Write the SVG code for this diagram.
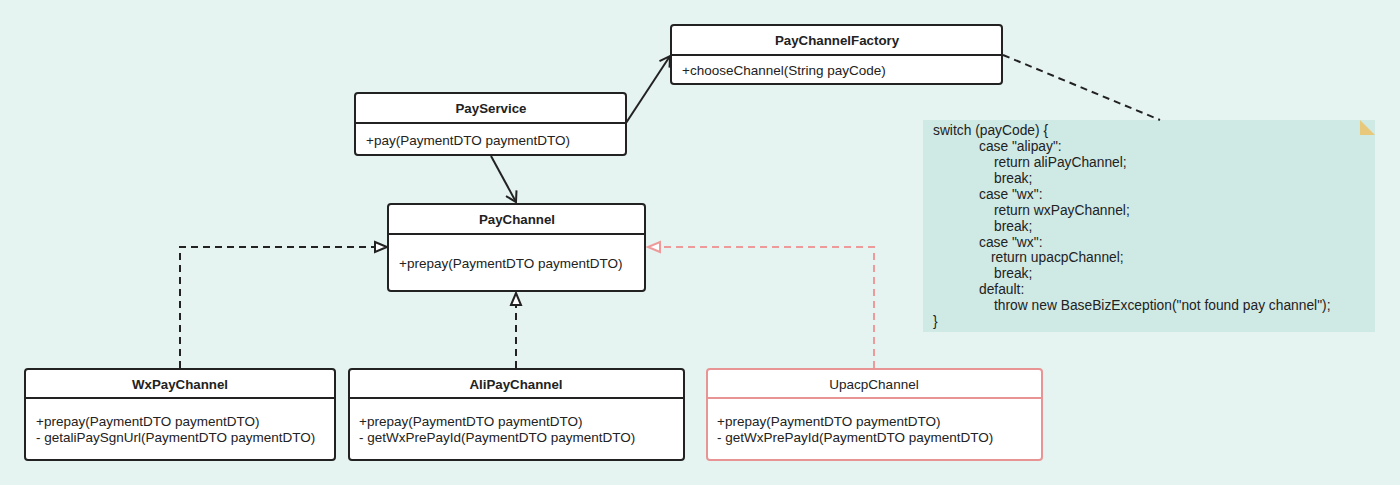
<svg xmlns="http://www.w3.org/2000/svg" width="1400" height="485" viewBox="0 0 1400 485">
<style>
.box{fill:#ffffff;stroke:#222;stroke-width:2}
.red{fill:#ffffff;stroke:#e89494;stroke-width:2}
.div{stroke:#222;stroke-width:2}
.divr{stroke:#e89494;stroke-width:2}
.t{font-family:"Liberation Sans",Arial,sans-serif;font-size:13.5px;fill:#222}
.b{font-weight:bold;text-anchor:middle;font-size:13.3px}
.n{font-family:"Liberation Sans",Arial,sans-serif;font-size:13.8px;fill:#222}
.ln{fill:none;stroke:#222;stroke-width:2}
.dash{fill:none;stroke:#222;stroke-width:2;stroke-dasharray:7 5}
.dashr{fill:none;stroke:#ef9a9a;stroke-width:2;stroke-dasharray:7 5}
</style>
<defs>
<marker id="open" markerWidth="14" markerHeight="14" refX="11" refY="7" orient="auto" markerUnits="userSpaceOnUse">
<path d="M1,1 L11,7 L1,13" fill="none" stroke="#222" stroke-width="2"/>
</marker>
<marker id="tri" markerWidth="16" markerHeight="14" refX="14" refY="7" orient="auto" markerUnits="userSpaceOnUse">
<path d="M2,2 L14,7 L2,12 Z" fill="#ffffff" stroke="#222" stroke-width="2"/>
</marker>
<marker id="trir" markerWidth="16" markerHeight="14" refX="14" refY="7" orient="auto" markerUnits="userSpaceOnUse">
<path d="M2,2 L14,7 L2,12 Z" fill="#ffffff" stroke="#ef9a9a" stroke-width="2"/>
</marker>
</defs>
<rect width="1400" height="485" fill="#e6f4f1"/>

<g id="note">
<rect x="923" y="120" width="452" height="212" fill="#cfe9e5"/>
<path d="M1360,120 L1375,135 L1360,135 Z" fill="#e8c97c"/>
<text class="n" x="933" y="135">switch (payCode) {</text>
<text class="n" x="979" y="151">case "alipay":</text>
<text class="n" x="994" y="167">return aliPayChannel;</text>
<text class="n" x="994" y="183">break;</text>
<text class="n" x="979" y="199">case "wx":</text>
<text class="n" x="994" y="215">return wxPayChannel;</text>
<text class="n" x="994" y="231">break;</text>
<text class="n" x="979" y="247">case "wx":</text>
<text class="n" x="991" y="262">return upacpChannel;</text>
<text class="n" x="994" y="278">break;</text>
<text class="n" x="979" y="294">default:</text>
<text class="n" x="994" y="310">throw new BaseBizException("not found pay channel");</text>
<text class="n" x="933" y="326">}</text>
</g>

<g id="connectors">
<line class="ln" x1="626" y1="123" x2="670" y2="56" marker-end="url(#open)"/>
<line class="ln" x1="491" y1="156" x2="516" y2="202" marker-end="url(#open)"/>
<polyline class="dash" points="180,368 180,247 387,247" marker-end="url(#tri)"/>
<line class="dash" x1="516" y1="368" x2="516" y2="293" marker-end="url(#tri)"/>
<polyline class="dashr" points="874,368 874,247 648,247" marker-end="url(#trir)"/>
<line class="dash" x1="1003" y1="55" x2="1160" y2="120"/>
</g>

<g id="PayChannelFactory">
<rect class="box" x="671" y="25" width="331" height="59" rx="3"/>
<line class="div" x1="671" y1="55" x2="1002" y2="55"/>
<text class="t b" x="837" y="45">PayChannelFactory</text>
<text class="t" x="682" y="75">+chooseChannel(String payCode)</text>
</g>

<g id="PayService">
<rect class="box" x="355" y="93" width="271" height="62" rx="3"/>
<line class="div" x1="355" y1="123" x2="626" y2="123"/>
<text class="t b" x="491" y="113">PayService</text>
<text class="t" x="366" y="145">+pay(PaymentDTO paymentDTO)</text>
</g>

<g id="PayChannel">
<rect class="box" x="388" y="204" width="257" height="87" rx="3"/>
<line class="div" x1="388" y1="234" x2="645" y2="234"/>
<text class="t b" x="517" y="224">PayChannel</text>
<text class="t" x="399" y="268">+prepay(PaymentDTO paymentDTO)</text>
</g>

<g id="WxPayChannel">
<rect class="box" x="25" y="369" width="310" height="91" rx="3"/>
<line class="div" x1="25" y1="398" x2="335" y2="398"/>
<text class="t b" x="180" y="389">WxPayChannel</text>
<text class="t" x="36" y="426">+prepay(PaymentDTO paymentDTO)</text>
<text class="t" x="36" y="442">- getaliPaySgnUrl(PaymentDTO paymentDTO)</text>
</g>

<g id="AliPayChannel">
<rect class="box" x="349" y="369" width="335" height="91" rx="3"/>
<line class="div" x1="349" y1="398" x2="684" y2="398"/>
<text class="t b" x="516" y="389">AliPayChannel</text>
<text class="t" x="359" y="426">+prepay(PaymentDTO paymentDTO)</text>
<text class="t" x="359" y="442">- getWxPrePayId(PaymentDTO paymentDTO)</text>
</g>

<g id="UpacpChannel">
<rect class="red" x="707" y="369" width="335" height="91" rx="3"/>
<line class="divr" x1="707" y1="398" x2="1042" y2="398"/>
<text class="t" x="874" y="389" text-anchor="middle">UpacpChannel</text>
<text class="t" x="717" y="426">+prepay(PaymentDTO paymentDTO)</text>
<text class="t" x="717" y="442">- getWxPrePayId(PaymentDTO paymentDTO)</text>
</g>
</svg>
